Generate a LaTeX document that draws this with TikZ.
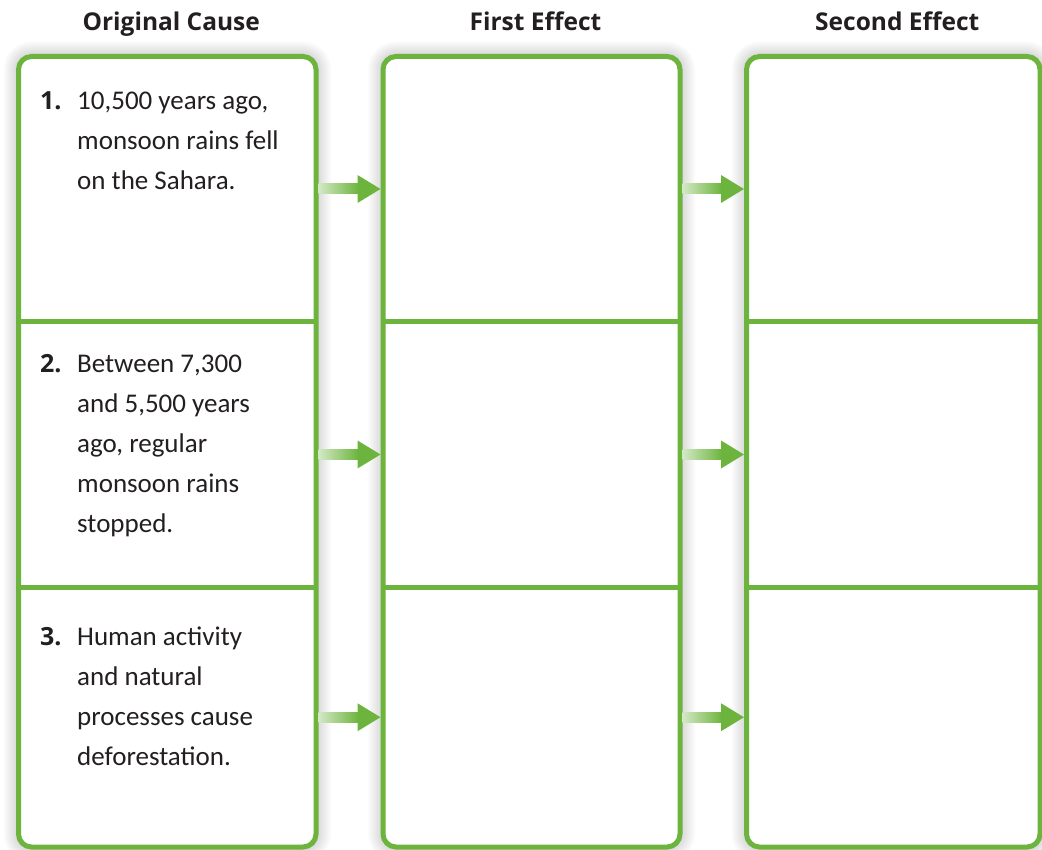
\documentclass[tikz,border=0pt]{standalone}
\usepackage{fontspec}
\setmainfont{Carlito}
\newfontfamily\hdrfont{Open Sans}
\usetikzlibrary{calc}
\definecolor{grn}{RGB}{109,180,62}
\definecolor{ink}{RGB}{35,31,32}
\tikzset{
  cell/.style={inner sep=0pt, outer sep=0pt, minimum width=#1, anchor=north west},
  colbox/.style={draw=grn, line width=5pt, rounded corners=13pt},
  divider/.style={draw=grn, line width=5pt},
  hdr/.style={anchor=base, inner sep=0pt, text=ink, font=\hdrfont\bfseries\fontsize{24.5}{28}\selectfont},
  num/.style={anchor=base west, inner sep=0pt, text=ink, font=\hdrfont\bfseries\fontsize{25}{30}\selectfont},
  hand/.style={anchor=base west, inner sep=0pt, text=ink, font=\fontsize{27}{40}\selectfont},
}
\newcommand\handtext[1]{\parbox[t]{240pt}{\raggedright #1}}
\newcommand\greenarrow[2]{%
  \path ($(#1.east)+(2.5,0)$) coordinate (as) ($(#2.west)+(-2.5,0)$) coordinate (at);
  \shade[left color=grn!30!white, right color=grn] ($(as)+(0,-5)$) rectangle ($(at)+(-22,5)$);
  \fill[grn] ($(at)+(-23,-14)$) -- (at) -- ($(at)+(-23,14)$) -- cycle;
}
\newcommand\colshadow[2]{%
  \foreach \i in {1,...,10}{
    \fill[black, opacity=0.017, rounded corners={13pt+1.5pt*\i}]
      ($(#1.north west)+(-1.5*\i,-1.5*\i)$) rectangle ($(#2.south east)+(1.5*\i,1.5*\i)$);
  }
}
\begin{document}
\begin{tikzpicture}[x=1pt, y=-1pt]
\useasboundingbox (0,0) rectangle (1042,850);
% cells: column c, row r
\foreach \c/\xl/\w in {1/18.5/297.5, 2/383/297, 3/746.5/293.5}{
  \node[cell=\w, minimum height=265pt] (c\c1) at (\xl,56.5) {};
  \node[cell=\w, minimum height=266pt] (c\c2) at (\xl,321.5) {};
  \node[cell=\w, minimum height=259.5pt] (c\c3) at (\xl,587.5) {};
}
% shadows
\foreach \c in {1,2,3}{ \colshadow{c\c1}{c\c3} }
% column fills, dividers and outlines
\foreach \c in {1,2,3}{
  \fill[white, rounded corners=13pt] (c\c1.north west) rectangle (c\c3.south east);
  \draw[divider] (c\c1.south west) -- (c\c1.south east);
  \draw[divider] (c\c2.south west) -- (c\c2.south east);
  \draw[colbox] (c\c1.north west) rectangle (c\c3.south east);
}
% headers
\node[hdr] (h1) at ($(c11.north)+(4,-25.5)$) {Original Cause};
\node[hdr] (h2) at ($(c21.north)+(4,-25.5)$) {First Effect};
\node[hdr] (h3) at ($(c31.north)+(4,-25.5)$) {Second Effect};
% numbers and texts
\node[num] (n1) at (40,110) {1.};
\node[hand] (t1) at (77,110) {\handtext{10,500 years ago,\\ monsoon rains fell\\ on the Sahara.}};
\node[num] (n2) at (40,373) {2.};
\node[hand] (t2) at (77,373) {\handtext{Between 7,300\\ and 5,500 years\\ ago, regular\\ monsoon rains\\ stopped.}};
\node[num] (n3) at (40,645) {3.};
\node[hand] (t3) at (77,645) {\handtext{Human activity\\ and natural\\ processes cause\\ deforestation.}};
% arrows
\greenarrow{c11}{c21}
\greenarrow{c12}{c22}
\greenarrow{c13}{c23}
\greenarrow{c21}{c31}
\greenarrow{c22}{c32}
\greenarrow{c23}{c33}
\end{tikzpicture}
\end{document}
